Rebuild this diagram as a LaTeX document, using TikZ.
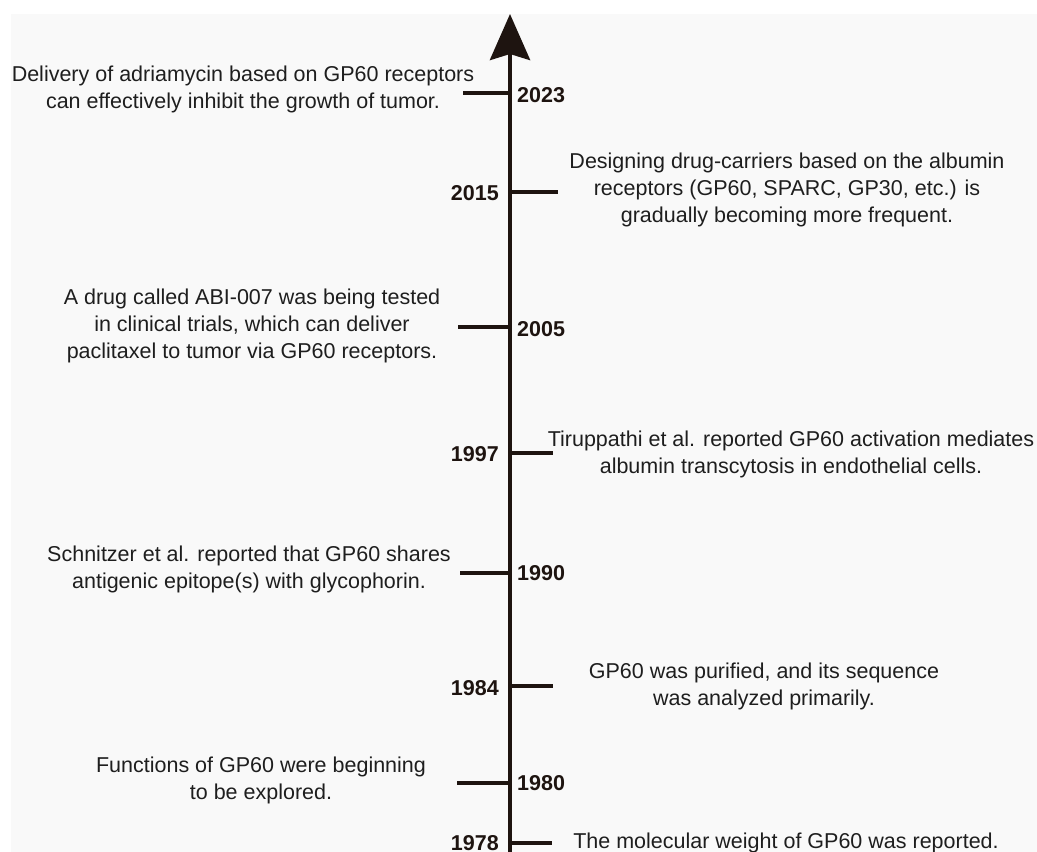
\documentclass[tikz,border=0pt]{standalone}
\usepackage{fontspec}
\setmainfont{Liberation Sans}
\usetikzlibrary{arrows.meta}
\definecolor{axiscol}{RGB}{30,20,16}
\definecolor{bgcol}{RGB}{249,249,249}
\definecolor{txtcol}{RGB}{30,30,30}
\begin{document}
\begin{tikzpicture}[x=1pt,y=-1pt,
  axisline/.style={draw=axiscol,line width=4.5pt},
  tickline/.style={draw=axiscol,line width=3.5pt},
  event/.style={align=center,inner sep=0pt,text=txtcol,font=\fontsize{21.5}{27}\selectfont},
  yearlab/.style={inner sep=0pt,text=axiscol,font=\fontsize{21.5}{26}\selectfont\bfseries}]
\useasboundingbox (0,0) rectangle (1037,852);
\fill[white] (0,0) rectangle (1037,852);
\fill[bgcol] (11,14) rectangle (1037,852);
% axis
\coordinate (bottom) at (510,852);
\coordinate (top) at (510,14);
\draw[axisline,-{Stealth[length=46pt,width=40pt,inset=6pt]}] (bottom) -- (top);
% tick points on axis
\coordinate (a2023) at (510,93);
\coordinate (a2015) at (510,192);
\coordinate (a2005) at (510,327);
\coordinate (a1997) at (510,453);
\coordinate (a1990) at (510,573);
\coordinate (a1984) at (510,686);
\coordinate (a1980) at (510,783);
\coordinate (a1978) at (510,843);
% tick ends
\coordinate (t2023) at (463,93);
\coordinate (t2015) at (558,192);
\coordinate (t2005) at (458,327);
\coordinate (t1997) at (553,453);
\coordinate (t1990) at (460,573);
\coordinate (t1984) at (553,686);
\coordinate (t1980) at (457,783);
\coordinate (t1978) at (552,843);
\foreach \y in {2023,2015,2005,1997,1990,1984,1980,1978}
  \draw[tickline] (a\y) -- (t\y);
% year labels
\node[yearlab,anchor=west] (y2023) at (517,95) {2023};
\node[yearlab,anchor=east] (y2015) at (499,193) {2015};
\node[yearlab,anchor=west] (y2005) at (517,329) {2005};
\node[yearlab,anchor=east] (y1997) at (499,454) {1997};
\node[yearlab,anchor=west] (y1990) at (517,573) {1990};
\node[yearlab,anchor=east] (y1984) at (499,688) {1984};
\node[yearlab,anchor=west] (y1980) at (517,783) {1980};
\node[yearlab,anchor=east] (y1978) at (499,843) {1978};
% events
\node[event] (e2023) at (243,89) {Delivery of adriamycin based on GP60 receptors\\can effectively inhibit the growth of tumor.};
\node[event] (e2015) at (787,190) {Designing drug-carriers based on the albumin\\receptors (GP60, SPARC, GP30, etc.) is\\gradually becoming more frequent.};
\node[event] (e2005) at (252,326) {A drug called ABI-007 was being tested\\in clinical trials, which can deliver\\paclitaxel to tumor via GP60 receptors.};
\node[event] (e1997) at (791,454) {Tiruppathi et al. reported GP60 activation mediates\\albumin transcytosis in endothelial cells.};
\node[event] (e1990) at (249,569) {Schnitzer et al. reported that GP60 shares\\antigenic epitope(s) with glycophorin.};
\node[event] (e1984) at (764,686) {GP60 was purified, and its sequence\\was analyzed primarily.};
\node[event] (e1980) at (261,780) {Functions of GP60 were beginning\\to be explored.};
\node[event] (e1978) at (786,843) {The molecular weight of GP60 was reported.};
\end{tikzpicture}
\end{document}
